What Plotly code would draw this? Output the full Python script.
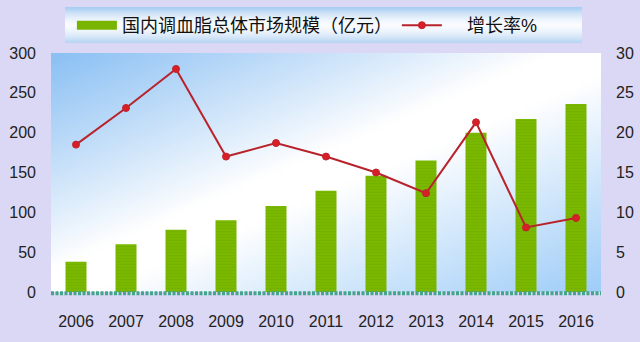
import base64
import struct
import zlib
import plotly.graph_objects as go

years = ["2006", "2007", "2008", "2009", "2010", "2011", "2012", "2013", "2014", "2015", "2016"]
market_size = [38, 60, 78, 90, 108, 127, 146, 165, 200, 217, 236]
growth_rate = [18.5, 23.1, 28.0, 17.0, 18.7, 17.0, 15.0, 12.4, 21.3, 8.1, 9.3]
bar_name = "国内调血脂总体市场规模（亿元）"
line_name = "增长率%"


def png_uri(w, h, func):
    rows = []
    for j in range(h):
        row = bytearray(b"\x00")
        for i in range(w):
            r, g, b = func(i / (w - 1), j / (h - 1))
            row += bytes((int(r), int(g), int(b)))
        rows.append(bytes(row))
    raw = b"".join(rows)

    def chunk(tag, data):
        return struct.pack(">I", len(data)) + tag + data + struct.pack(">I", zlib.crc32(tag + data) & 0xFFFFFFFF)

    png = (b"\x89PNG\r\n\x1a\n" + chunk(b"IHDR", struct.pack(">IIBBBBB", w, h, 8, 2, 0, 0, 0))
           + chunk(b"IDAT", zlib.compress(raw)) + chunk(b"IEND", b""))
    return "data:image/png;base64," + base64.b64encode(png).decode()


def mix(c1, c2, t):
    t = max(0.0, min(1.0, t))
    return tuple(a + (b - a) * t for a, b in zip(c1, c2))


WHITE = (255, 255, 255)


def plot_bg(u, v):
    t = (u + v) / 2
    if t < 0.5:
        s = (0.5 - t) * 2
        blue = (140, 193, 244)
    else:
        s = (t - 0.5) * 2
        blue = (160, 206, 248)
    b = max(0.0, (s - 0.1) / 0.9) ** 0.95
    return mix(WHITE, blue, b)


def legend_bg(u, v):
    s = abs(v - 0.5) * 2
    b = s ** 1.6
    top = (168, 206, 242) if v < 0.5 else (185, 214, 244)
    return mix((250, 252, 255), top, b)


plot_img = png_uri(96, 48, plot_bg)
leg_img = png_uri(64, 24, legend_bg)

fig = go.Figure()

fig.add_trace(go.Bar(
    x=years, y=market_size, name=bar_name, showlegend=False,
    width=0.42,
    marker=dict(color="#78b400", line=dict(width=0),
                pattern=dict(shape="-", fgcolor="#6aa600", bgcolor="#7ab800", size=3, solidity=0.25)),
))
# legend swatch for the bars
fig.add_trace(go.Scatter(
    x=[None], y=[None], name=bar_name, mode="lines",
    line=dict(color="#78b400", width=9),
))
fig.add_trace(go.Scatter(
    x=years, y=growth_rate, name="\u00a0" * 4 + line_name, yaxis="y2",
    mode="lines+markers",
    line=dict(color="#b8232b", width=2),
    marker=dict(color="#d81e26", size=7, line=dict(color="#c0222a", width=1)),
))

font_family = "Liberation Sans, Arial, Noto Sans CJK SC"

fig.update_layout(
    width=640, height=342,
    margin=dict(l=51, r=39, t=53, b=50, autoexpand=False),
    paper_bgcolor="#dad8f4",
    plot_bgcolor="rgba(0,0,0,0)",
    font=dict(family=font_family, size=16, color="#222222"),
    xaxis=dict(range=[-0.5, len(years) - 0.5], showgrid=False, zeroline=False, showline=False, ticks="",
               tickfont=dict(size=16, color="#222222"), ticklabelstandoff=18),
    yaxis=dict(range=[0, 300], dtick=50, showgrid=False, zeroline=False, showline=False,
               ticks="", tickfont=dict(size=16, color="#222222"), ticklabelstandoff=14),
    yaxis2=dict(range=[0, 30], dtick=5, overlaying="y", side="right", showgrid=False,
                zeroline=False, showline=False, ticks="",
                tickfont=dict(size=16, color="#222222"), ticklabelstandoff=14),
    legend=dict(orientation="h", x=0.038, xanchor="left", y=1.115, yanchor="middle",
                bgcolor="rgba(0,0,0,0)", font=dict(size=18, family=font_family, color="#111111"),
                itemwidth=40),
    images=[
        dict(source=plot_img, xref="paper", yref="paper", x=0, y=1, sizex=1, sizey=1,
             sizing="stretch", layer="below", xanchor="left", yanchor="top"),
        dict(source=leg_img, xref="paper", yref="paper", x=0.0255, y=1.1925, sizex=0.94, sizey=0.1507,
             sizing="stretch", layer="below", xanchor="left", yanchor="top"),
    ],
    shapes=[
        dict(type="line", xref="paper", yref="paper", x0=0, x1=1, y0=-0.005, y1=-0.005,
             line=dict(color="#45a48e", width=4, dash="3px,1.5px"), layer="above"),
    ],
)

fig.write_html("out.html")
